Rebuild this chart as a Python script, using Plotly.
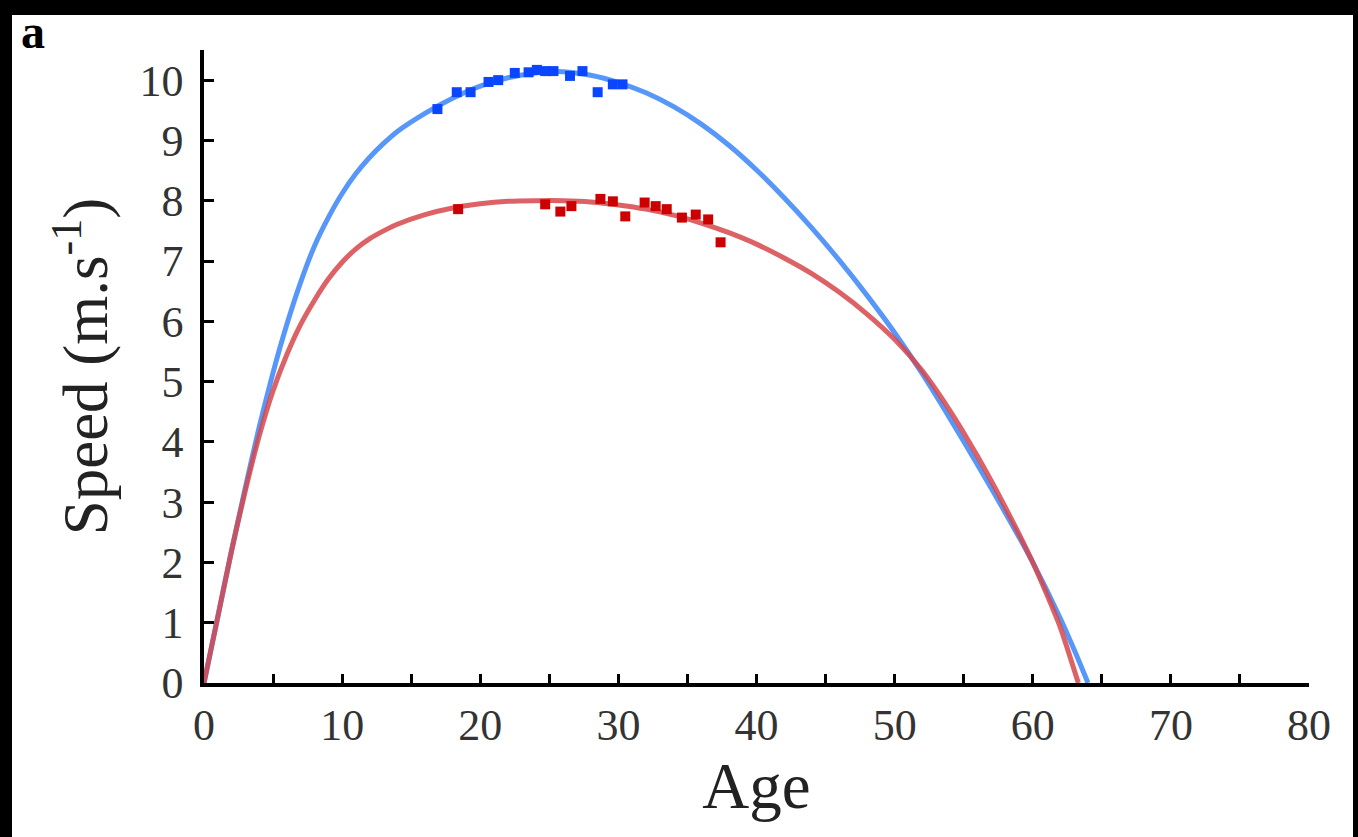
import plotly.graph_objects as go

# ---- data ----
blue_pts_age = [16.9, 18.3, 19.3, 20.6, 21.3, 22.5, 23.5, 24.1, 24.7, 25.3, 26.5, 27.4, 28.5, 29.6, 30.3]
blue_pts_speed = [9.52, 9.80, 9.80, 9.97, 10.00, 10.12, 10.13, 10.17, 10.15, 10.15, 10.07, 10.15, 9.80, 9.93, 9.93]

red_pts_age = [18.4, 24.7, 25.8, 26.6, 28.7, 29.6, 30.5, 31.9, 32.7, 33.5, 34.6, 35.6, 36.5, 37.4]
red_pts_speed = [7.86, 7.94, 7.82, 7.91, 8.03, 7.99, 7.74, 7.97, 7.91, 7.86, 7.72, 7.77, 7.69, 7.31]

blue_fit_age = [0, 1, 2, 3, 4, 5, 6, 7, 8, 9, 10, 11, 12, 13, 14, 16, 18, 20, 22, 24, 26, 28, 30,
                32, 34, 36, 38, 40, 42, 44, 46, 48, 50, 52, 54, 56, 58, 60, 62, 63, 64]
blue_fit_speed = [0, 1.1, 2.2, 3.25, 4.25, 5.15, 5.95, 6.65, 7.25, 7.72, 8.12, 8.45, 8.72, 8.95, 9.15,
                  9.45, 9.7, 9.9, 10.04, 10.12, 10.14, 10.08, 9.96, 9.79, 9.56, 9.27, 8.92, 8.51, 8.05,
                  7.55, 7.01, 6.43, 5.81, 5.13, 4.39, 3.62, 2.83, 2.0, 1.07, 0.55, 0]

red_fit_age = [0, 1, 2, 3, 4, 5, 6, 7, 8, 9, 10, 11, 12, 13, 14, 16, 18, 20, 22, 24, 26, 28, 30, 32,
               34, 36, 38, 40, 42, 44, 46, 48, 50, 52, 54, 56, 58, 60, 61, 62, 63.3]
red_fit_speed = [0, 1.1, 2.2, 3.2, 4.1, 4.85, 5.45, 5.95, 6.35, 6.7, 6.98, 7.2, 7.37, 7.5, 7.61, 7.77,
                 7.88, 7.95, 7.99, 8.0, 8.0, 7.98, 7.93, 7.86, 7.76, 7.63, 7.47, 7.28, 7.05, 6.79,
                 6.48, 6.12, 5.7, 5.18, 4.52, 3.76, 2.92, 2.0, 1.48, 0.92, 0]

x_tick_vals = [0, 5, 10, 15, 20, 25, 30, 35, 40, 45, 50, 55, 60, 65, 70, 75, 80]
x_tick_text = ["0", "", "10", "", "20", "", "30", "", "40", "", "50", "", "60", "", "70", "", "80"]
y_tick_vals = [0, 1, 2, 3, 4, 5, 6, 7, 8, 9, 10]
y_tick_text = ["0", "1", "2", "3", "4", "5", "6", "7", "8", "9", "10"]

SERIF = "Liberation Serif, Times New Roman, serif"

fig = go.Figure()
fig.add_trace(go.Scatter(x=blue_fit_age, y=blue_fit_speed, mode="lines", line_shape="spline",
                         line=dict(color="rgba(70,140,250,0.9)", width=5, smoothing=0.6), hoverinfo="skip"))
fig.add_trace(go.Scatter(x=red_fit_age, y=red_fit_speed, mode="lines", line_shape="spline",
                         line=dict(color="rgba(215,70,75,0.85)", width=5, smoothing=0.6), hoverinfo="skip"))
fig.add_trace(go.Scatter(x=blue_pts_age, y=blue_pts_speed, mode="markers",
                         marker=dict(symbol="square", size=10, color="#0a46ff", line=dict(width=0))))
fig.add_trace(go.Scatter(x=red_pts_age, y=red_pts_speed, mode="markers",
                         marker=dict(symbol="square", size=10, color="#cc0000", line=dict(width=0))))

W, H = 1358, 837
L, R, T, B = 204, 49, 50, 154
pw, ph = W - L - R, H - T - B

def px_x(p):
    return (p - L) / pw

def px_y(p):
    return (H - B - p) / ph

shapes = [
    dict(type="rect", xref="paper", yref="paper", x0=px_x(-10), x1=px_x(W + 10), y0=px_y(15), y1=px_y(-10),
         fillcolor="black", line=dict(width=0), layer="above"),
    dict(type="rect", xref="paper", yref="paper", x0=px_x(-10), x1=px_x(12), y0=px_y(H + 10), y1=px_y(-10),
         fillcolor="black", line=dict(width=0), layer="above"),
    dict(type="rect", xref="paper", yref="paper", x0=px_x(1353), x1=px_x(W + 10), y0=px_y(H + 10), y1=px_y(-10),
         fillcolor="black", line=dict(width=0), layer="above"),
]

fig.update_layout(
    width=W, height=H,
    margin=dict(l=L, r=R, t=T, b=B, pad=0),
    paper_bgcolor="white", plot_bgcolor="white",
    showlegend=False,
    font=dict(family=SERIF, color="#333"),
    shapes=shapes,
    annotations=[dict(text="<b>a</b>", xref="paper", yref="paper", x=px_x(19), y=px_y(3),
                      xanchor="left", yanchor="top", showarrow=False,
                      font=dict(family=SERIF, size=48, color="black"))],
)
fig.update_xaxes(
    range=[0, 80], tickvals=x_tick_vals, ticktext=x_tick_text,
    ticks="inside", ticklen=9, tickwidth=2.5, tickcolor="black",
    showline=True, linecolor="black", linewidth=4,
    showgrid=False, zeroline=False,
    tickfont=dict(family=SERIF, size=44, color="#333"),
    title=dict(text="Age", font=dict(family=SERIF, size=65, color="#222"), standoff=0),
)
fig.update_yaxes(
    range=[0, 10.5], tickvals=y_tick_vals, ticktext=y_tick_text,
    ticks="inside", ticklen=10, tickwidth=2.5, tickcolor="black",
    showline=True, linecolor="black", linewidth=3.5,
    showgrid=False, zeroline=False,
    tickfont=dict(family=SERIF, size=44, color="#333"),
    ticklabelstandoff=8,
    title=dict(text="Speed (m.s<sup>-1</sup>)", font=dict(family=SERIF, size=63, color="#222"), standoff=12),
)

fig.write_html("out.html")
